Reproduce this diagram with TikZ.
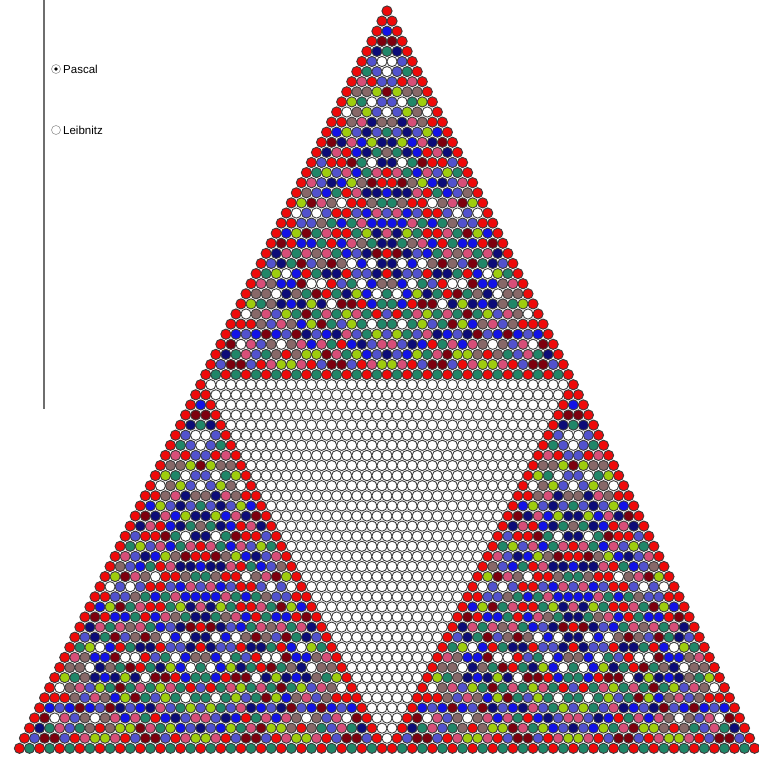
\documentclass[tikz,border=0pt]{standalone}
\usepackage{fontspec}
\setmainfont{Liberation Sans}
\definecolor{c0}{RGB}{255,255,255}
\definecolor{c1}{RGB}{238,10,10}
\definecolor{c2}{RGB}{18,18,230}
\definecolor{c3}{RGB}{125,0,14}
\definecolor{c4}{RGB}{12,12,120}
\definecolor{c5}{RGB}{82,82,205}
\definecolor{c6}{RGB}{32,134,104}
\definecolor{c7}{RGB}{215,78,120}
\definecolor{c8}{RGB}{135,104,104}
\definecolor{c9}{RGB}{158,205,14}
\definecolor{ring}{RGB}{60,60,60}
\definecolor{panelline}{RGB}{110,110,110}
\tikzset{
  bead/.style={draw=ring, line width=0.9pt},
  radiobtn/.style={circle, draw=gray!80, line width=0.6pt, fill=white, minimum size=9pt, inner sep=0pt},
  radiolabel/.style={anchor=west, font=\fontsize{11.5}{13}\selectfont, inner sep=0pt}
}
\begin{document}
\begin{tikzpicture}[x=1pt,y=-1pt]
\useasboundingbox (0,0) rectangle (759,757);
\fill[white] (0,0) rectangle (759,757);
% side panel
\coordinate (ltop) at (43.5,0);
\coordinate (lbot) at (43.5,409);
\draw[panelline, line width=2pt] (ltop) -- (lbot);
\node[radiobtn] (rbp) at (56,69) {};
\fill[black] (rbp.center) circle[radius=1.8pt];
\node[radiolabel] (pascal) at (63,69.5) {Pascal};
\node[radiobtn] (rbl) at (56,130) {};
\node[radiolabel] (leibnitz) at (63,130.5) {Leibnitz};
% Pascal triangle mod 37, coloured by residue mod 10
\foreach \n in {0,...,73}{
  \foreach \k in {0,...,\n}{
    \ifnum\k=0 \def\v{1}\else\ifnum\k=\n \def\v{1}\else
      \pgfmathtruncatemacro\pn{\n-1}%
      \pgfmathtruncatemacro\pk{\k-1}%
      \edef\v{\the\numexpr\csname pv@\pn @\pk\endcsname+\csname pv@\pn @\k\endcsname\relax}%
      \ifnum\v>36 \edef\v{\the\numexpr\v-37\relax}\fi
    \fi\fi
    \expandafter\xdef\csname pv@\n @\k\endcsname{\v}%
    \pgfmathtruncatemacro\ci{mod(\v,10)}%
    \fill[c\ci, bead] ({387+(2*\k-\n)*5.035},{11+\n*10.1}) circle[radius=5.1pt];
  }
}
\end{tikzpicture}
\end{document}
